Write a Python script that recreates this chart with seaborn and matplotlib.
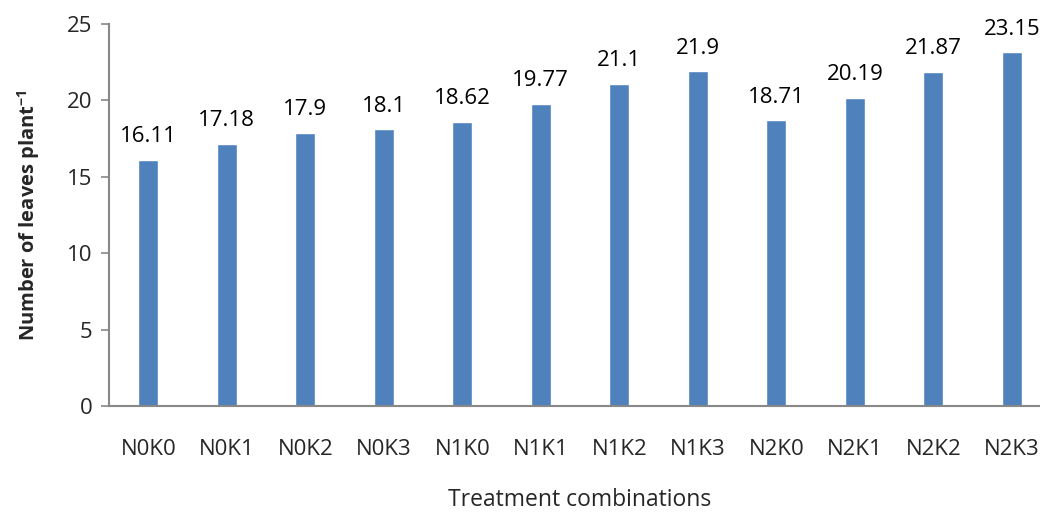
import matplotlib
matplotlib.use("Agg")
import matplotlib.pyplot as plt
import seaborn as sns
import pandas as pd

treatments = ["N0K0", "N0K1", "N0K2", "N0K3", "N1K0", "N1K1",
              "N1K2", "N1K3", "N2K0", "N2K1", "N2K2", "N2K3"]
leaves = [16.11, 17.18, 17.9, 18.1, 18.62, 19.77,
          21.1, 21.9, 18.71, 20.19, 21.87, 23.15]
value_labels = ["16.11", "17.18", "17.9", "18.1", "18.62", "19.77",
                "21.1", "21.9", "18.71", "20.19", "21.87", "23.15"]
y_ticks = [0, 5, 10, 15, 20, 25]

sns.set_style("white")
plt.rcParams["font.family"] = ["Open Sans", "DejaVu Sans"]
plt.rcParams["mathtext.fontset"] = "custom"
plt.rcParams["mathtext.rm"] = "Open Sans"
plt.rcParams["mathtext.bf"] = "Open Sans:bold"

df = pd.DataFrame({"treatment": treatments, "leaves": leaves})

fig = plt.figure(figsize=(10.4, 5.12), dpi=100)
ax = fig.add_axes([0.1048, 0.207, 0.906, 0.746])

sns.barplot(data=df, x="treatment", y="leaves", color="#4F81BD",
            saturation=1, width=0.255, ax=ax)

for i, (v, lab) in enumerate(zip(leaves, value_labels)):
    ax.annotate(lab, (i, v), xytext=(0, 9), textcoords="offset points",
                ha="center", va="bottom", fontsize=16, color="#000000")

ax.set_ylim(0, 25)
ax.set_xlim(-0.5, len(treatments) - 0.5)
ax.set_yticks(y_ticks)
ax.set_yticklabels([str(t) for t in y_ticks], fontsize=16)
ax.set_xticks(range(len(treatments)))
ax.set_xticklabels(treatments, fontsize=16)
ax.tick_params(axis="y", length=6, width=1.2, color="#888888", direction="out", pad=6, left=True)
ax.tick_params(axis="x", length=0, pad=24)

for side in ["top", "right"]:
    ax.spines[side].set_visible(False)
for side in ["left", "bottom"]:
    ax.spines[side].set_color("#888888")
    ax.spines[side].set_linewidth(1.5)

ax.set_xlabel("Treatment combinations", fontsize=16.5, labelpad=20)
ax.set_ylabel(r"Number of leaves plant$^{\mathbf{-1}}$", fontsize=14.5,
              fontweight="bold", labelpad=18)

fig.savefig("out.png", dpi=100)
